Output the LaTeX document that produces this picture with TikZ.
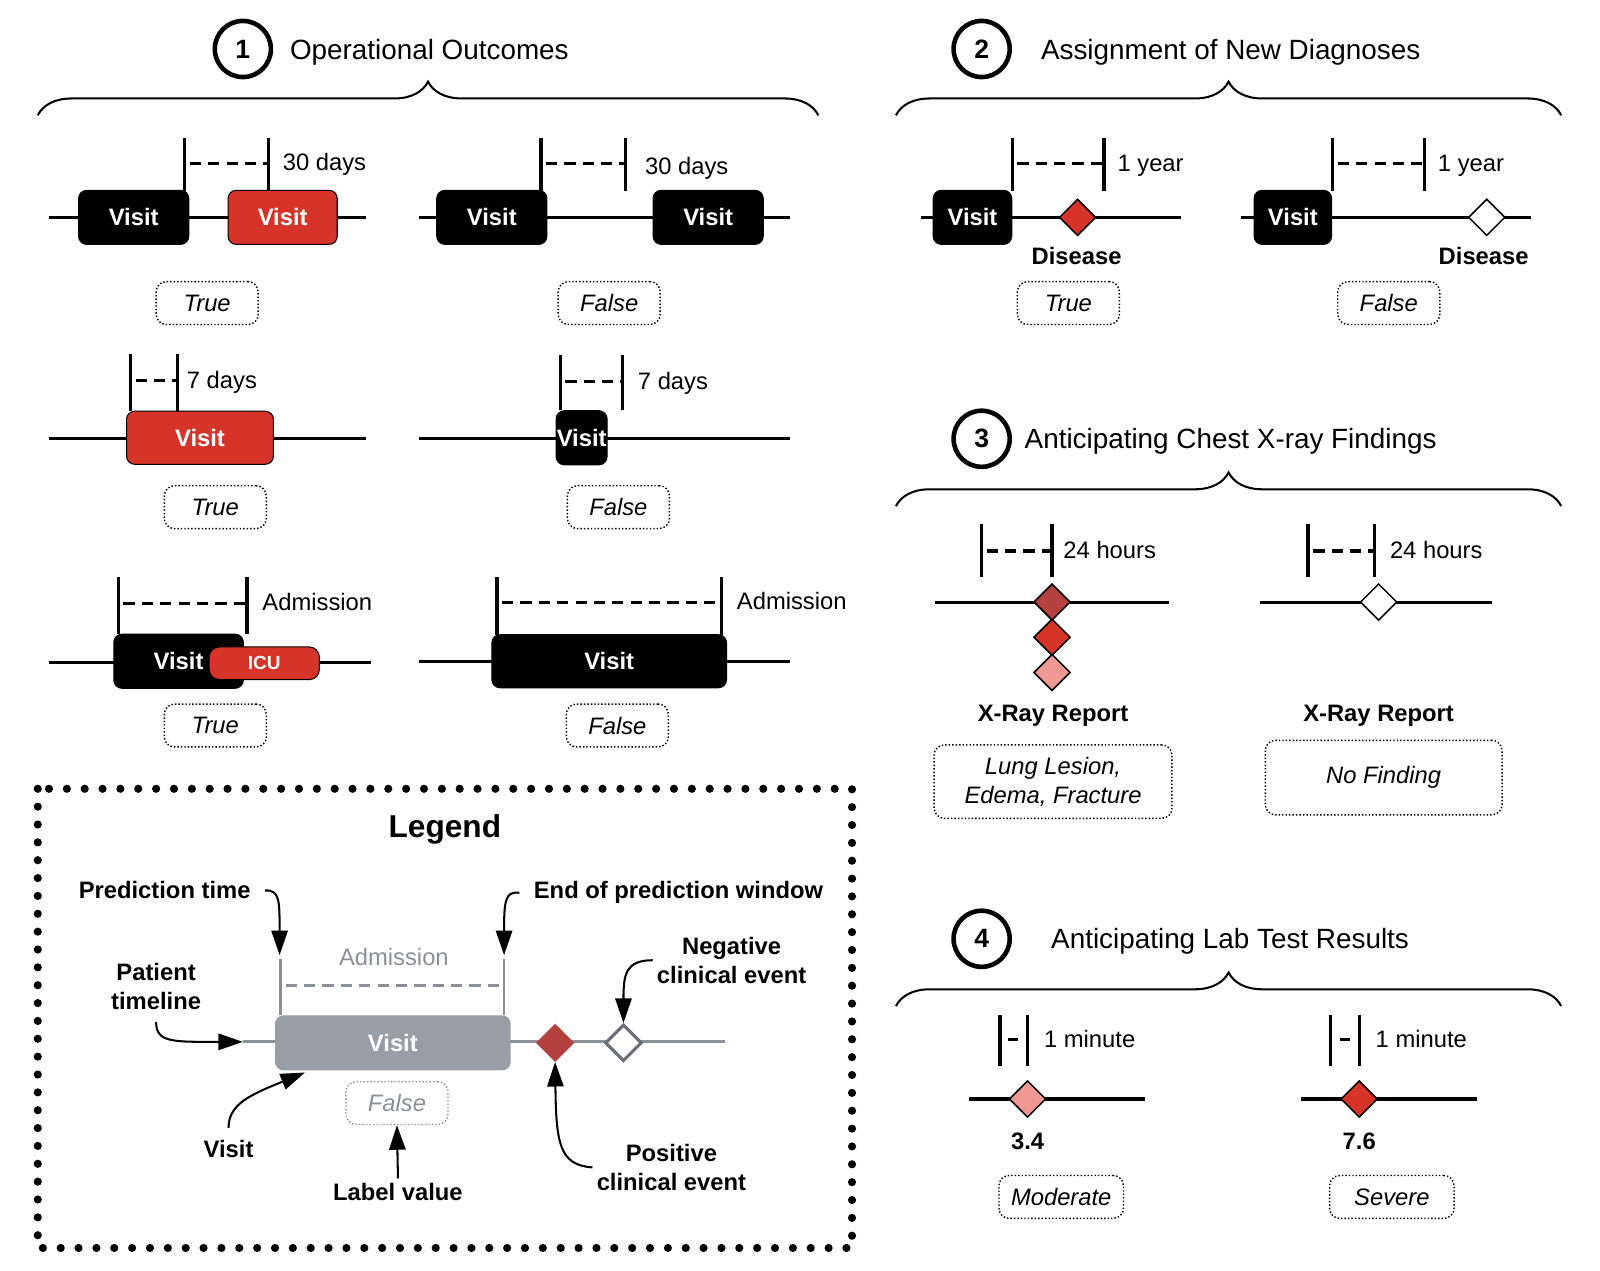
\documentclass[tikz,border=0pt]{standalone}
\usepackage{fontspec}
\setmainfont{Liberation Sans}
\usetikzlibrary{shapes.geometric,arrows.meta,decorations.pathreplacing}

\definecolor{visitred}{RGB}{214,52,41}
\definecolor{darkred}{RGB}{181,65,62}
\definecolor{lightred}{RGB}{240,152,148}
\definecolor{visgray}{RGB}{152,157,166}
\definecolor{leggray}{RGB}{138,143,152}
\definecolor{neggray}{RGB}{107,111,120}

\newcommand\fsBody{\fontsize{23.3}{28}\selectfont}
\newcommand\fsHead{\fontsize{27.3}{33}\selectfont}
\newcommand\fsLegend{\fontsize{31}{37}\selectfont}
\newcommand\fsIcu{\fontsize{18.6}{22}\selectfont}
\newcommand\fsNum{\fontsize{26}{31}\selectfont}

\tikzset{
  timeline/.style={line width=3pt},
  wintick/.style={line width=3.3pt},
  windash/.style={line width=3pt, dash pattern=on 11pt off 7pt, dash phase=-5pt},
  winlabel/.style={anchor=base west, inner sep=0pt, font=\fsBody},
  visit/.style={draw=black, line width=1pt, fill=black, text=white, rounded corners=8pt,
    minimum height=53pt, inner sep=0pt, font=\fsBody\bfseries},
  outcome/.style={draw, dotted, line width=1.4pt, rounded corners=10pt, minimum width=100pt,
    minimum height=42pt, inner sep=0pt, font=\fsBody\itshape},
  event/.style={diamond, draw, line width=1.5pt, minimum size=36pt, inner sep=0pt},
  boldlbl/.style={font=\fsBody\bfseries, inner sep=0pt},
  secnum/.style={circle, draw, line width=4.5pt, minimum size=55pt, inner sep=0pt, font=\fsNum\bfseries},
  sectitle/.style={anchor=base west, inner sep=0pt, font=\fsHead},
  secbrace/.style={decorate, decoration={brace, amplitude=33pt}, line width=2pt},
  legarrow/.style={line width=2pt, -{Triangle[length=24pt, width=16pt]}},
  legtext/.style={font=\fsBody\bfseries, align=center, inner sep=4pt},
}

\begin{document}
\begin{tikzpicture}[x=1pt,y=-1pt]
\useasboundingbox (0,0) rectangle (1568,1245);

% Section 1: operational outcomes
\node[secnum] (num1) at (238,48) {1};
\node[sectitle] (title1) at (284,58) {Operational Outcomes};
\draw[secbrace] (37,113) -- (802,113);

% 30 days, true
\draw[timeline] (48,213) coordinate (tA1) -- (359,213) coordinate (tA2);
\node[visit, minimum width=108pt] (vA1) at (131,213) {Visit};
\node[visit, fill=visitred, minimum width=107pt] (vA2) at (277,213) {Visit};
\draw[wintick] (181,135) -- (181,187) (263,135) -- (263,187);
\draw[windash] (181,160) -- (263,160);
\node[winlabel] (wA) at (277,167) {30 days};
\node[outcome] (lA) at (203,297) {True};

% 30 days, false
\draw[timeline] (411,213) coordinate (tB1) -- (774,213) coordinate (tB2);
\node[visit, minimum width=108pt] (vB1) at (482,213) {Visit};
\node[visit, minimum width=108pt] (vB2) at (694,213) {Visit};
\draw[wintick] (530,135) -- (530,187) (613,135) -- (613,187);
\draw[windash] (530,160) -- (613,160);
\node[winlabel] (wB) at (632,171) {30 days};
\node[outcome] (lB) at (597,297) {False};

% 7 days, true
\draw[timeline] (48,430) coordinate (tC1) -- (359,430) coordinate (tC2);
\node[visit, fill=visitred, minimum width=144pt, minimum height=52pt] (vC) at (196,429) {Visit};
\draw[wintick] (128,347) -- (128,403) (174,347) -- (174,403);
\draw[windash] (128,373) -- (174,373);
\node[winlabel] (wC) at (183,381) {7 days};
\node[outcome] (lC) at (211,497) {True};

% 7 days, false
\draw[timeline] (411,430) coordinate (tD1) -- (774,430) coordinate (tD2);
\node[visit, minimum width=50pt] (vD) at (570,429) {Visit};
\draw[wintick] (549,348) -- (549,402) (610,348) -- (610,402);
\draw[windash] (549,374) -- (610,374);
\node[winlabel] (wD) at (625,382) {7 days};
\node[outcome] (lD) at (606,497) {False};

% Admission, true
\draw[timeline] (48,649) coordinate (tE1) -- (364,649) coordinate (tE2);
\node[visit, minimum width=127pt] (vE) at (175,648) {Visit};
\node[visit, fill=visitred, minimum width=108pt, minimum height=32pt, rounded corners=10pt,
  font=\fsIcu\bfseries] (icuE) at (259,650) {ICU};
\draw[wintick] (116,565) -- (116,621) (242,565) -- (242,621);
\draw[windash] (116,591) -- (242,591);
\node[winlabel] (wE) at (257,598) {Admission};
\node[outcome] (lE) at (211,711) {True};

% Admission, false
\draw[timeline] (411,648) coordinate (tF1) -- (774,648) coordinate (tF2);
\node[visit, minimum width=230pt, minimum height=52pt] (vF) at (597,648) {Visit};
\draw[wintick] (487,565) -- (487,622) (707,565) -- (707,622);
\draw[windash] (487,590) -- (707,590);
\node[winlabel] (wF) at (722,597) {Admission};
\node[outcome] (lF) at (605,711) {False};

% Section 2: new diagnoses
\node[secnum] (num2) at (962,48) {2};
\node[sectitle] (title2) at (1020,58) {Assignment of New Diagnoses};
\draw[secbrace] (878,113) -- (1530,113);

\draw[timeline] (903,213) coordinate (tG1) -- (1157,213) coordinate (tG2);
\node[visit, minimum width=77pt] (vG) at (953,213) {Visit};
\node[event, fill=visitred] (dG) at (1056,213) {};
\draw[wintick] (992,135) -- (992,187) (1082,135) -- (1082,187);
\draw[windash] (992,160) -- (1082,160);
\node[winlabel] (wG) at (1095,168) {1 year};
\node[boldlbl] (disG) at (1055,251) {Disease};
\node[outcome] (lG) at (1047,297) {True};

\draw[timeline] (1216,213) coordinate (tH1) -- (1500,213) coordinate (tH2);
\node[visit, minimum width=76pt] (vH) at (1267,213) {Visit};
\node[event, fill=white] (dH) at (1457,213) {};
\draw[wintick] (1306,135) -- (1306,187) (1396,135) -- (1396,187);
\draw[windash] (1306,160) -- (1396,160);
\node[winlabel] (wH) at (1409,168) {1 year};
\node[boldlbl] (disH) at (1454,251) {Disease};
\node[outcome] (lH) at (1361,297) {False};

% Section 3: chest x-ray findings
\node[secnum] (num3) at (962,430) {3};
\node[sectitle] (title3) at (1004,440) {Anticipating Chest X-ray Findings};
\draw[secbrace] (878,496) -- (1530,496);

\draw[timeline] (916,590) coordinate (tI1) -- (1146,590) coordinate (tI2);
\node[event, fill=lightred] (dI3) at (1031,659) {};
\node[event, fill=visitred] (dI2) at (1031,624.5) {};
\node[event, fill=darkred] (dI1) at (1031,590) {};
\draw[wintick] (962,514) -- (962,565) (1031,514) -- (1031,565);
\draw[windash] (962,540) -- (1031,540);
\node[winlabel] (wI) at (1042,547) {24 hours};
\node[boldlbl, anchor=base] (xrI) at (1032,707) {X-Ray Report};
\node[outcome, minimum width=233pt, minimum height=72pt, align=center] (lI) at (1032,766)
  {Lung Lesion,\\Edema, Fracture};

\draw[timeline] (1235,590) coordinate (tJ1) -- (1462,590) coordinate (tJ2);
\node[event, fill=white] (dJ) at (1351,590) {};
\draw[wintick] (1282,514) -- (1282,565) (1347,514) -- (1347,565);
\draw[windash] (1282,540) -- (1347,540);
\node[winlabel] (wJ) at (1362,547) {24 hours};
\node[boldlbl, anchor=base] (xrJ) at (1351,707) {X-Ray Report};
\node[outcome, minimum width=232pt, minimum height=73pt] (lJ) at (1356,762) {No Finding};

% Section 4: lab test results
\node[secnum] (num4) at (962,920) {4};
\node[sectitle] (title4) at (1030,930) {Anticipating Lab Test Results};
\draw[secbrace] (878,986) -- (1530,986);

\draw[timeline] (950,1077) coordinate (tK1) -- (1122,1077) coordinate (tK2);
\node[event, fill=lightred] (dK) at (1007,1077) {};
\draw[wintick] (980,995) -- (980,1045) (1007,995) -- (1007,1045);
\draw[line width=3pt] (988,1019) -- (998,1019);
\node[winlabel] (wK) at (1023,1027) {1 minute};
\node[boldlbl] (valK) at (1007,1118) {3.4};
\node[outcome, minimum width=122pt] (lK) at (1040,1173) {Moderate};

\draw[timeline] (1275,1077) coordinate (tL1) -- (1447,1077) coordinate (tL2);
\node[event, fill=visitred] (dL) at (1332,1077) {};
\draw[wintick] (1304,995) -- (1304,1045) (1332,995) -- (1332,1045);
\draw[line width=3pt] (1313,1019) -- (1323,1019);
\node[winlabel] (wL) at (1348,1027) {1 minute};
\node[boldlbl] (valL) at (1332,1118) {7.6};
\node[outcome, minimum width=122pt] (lL) at (1364,1173) {Severe};

% Legend
\draw[line width=8pt, line cap=round, dash pattern=on 0pt off 17.5pt] (37,773) rectangle (835,1223);
\node[legtext, font=\fsLegend\bfseries, anchor=base] (lgTitle) at (436,821) {Legend};

\draw[timeline, leggray] (238,1021) coordinate (lgT1) -- (710,1021) coordinate (lgT2);
\draw[wintick, leggray, line width=2.6pt] (275,940) -- (275,995) (494,940) -- (494,995);
\draw[windash, leggray] (275,966) -- (494,966);
\node[winlabel, anchor=base, text=leggray] (lgAdm) at (386,946) {Admission};
\node[visit, fill=visgray, draw=visgray, minimum width=230pt] (lgVisit) at (385,1022) {Visit};
\node[event, fill=darkred, draw=darkred] (lgPos) at (544,1022) {};
\node[event, fill=white, draw=neggray, line width=3pt] (lgNeg) at (611,1022) {};
\node[outcome, draw=leggray, text=leggray] (lgFalse) at (389,1081) {False};

% Legend texts
\node[legtext, anchor=base west] (predTime) at (73,881) {Prediction time};
\node[legtext, anchor=base west] (endWin) at (519,881) {End of prediction window};
\node[legtext] (patient) at (153,967) {Patient\\timeline};
\node[legtext] (negLbl) at (717,941) {Negative\\clinical event};
\node[legtext] (visitLbl) at (224,1126) {Visit};
\node[legtext, anchor=base] (labelVal) at (390,1176) {Label value};
\node[legtext] (posLbl) at (658,1144) {Positive\\clinical event};

% Legend arrows
\coordinate (predTip) at (274,936);
\coordinate (endTip) at (494,936);
\coordinate (visitTip) at (299,1051);
\draw[legarrow] ([xshift=10pt]predTime.east) .. controls (274,872) and (274,882) .. (predTip);
\draw[legarrow] ([xshift=-10pt]endWin.west) .. controls (495,873) and (494,883) .. (endTip);
\draw[legarrow] ([yshift=-8pt]patient.south) .. controls (153,1022) and (170,1021) .. (lgT1);
\draw[legarrow] ([yshift=8pt]visitLbl.north) .. controls (224,1082) and (245,1073) .. (visitTip);
\draw[legarrow] (labelVal.north) -- (lgFalse.south);
\draw[legarrow] (posLbl.west) .. controls (548,1142) and (545,1120) .. (lgPos.south);
\draw[legarrow] (negLbl.west) .. controls (613,941) and (611,955) .. (lgNeg.north);

\end{tikzpicture}
\end{document}
